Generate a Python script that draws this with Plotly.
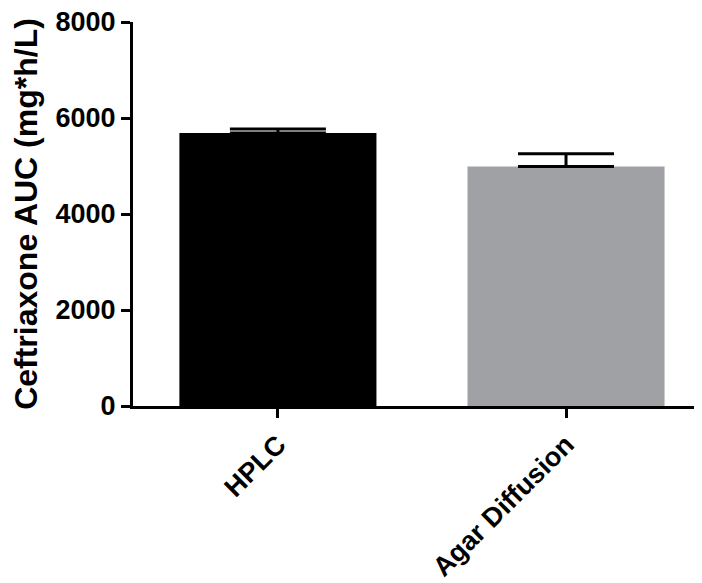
import plotly.graph_objects as go

categories = ["HPLC", "Agar Diffusion"]
means = [5688, 4992]
sem_plus = [84, 265]
colors = ["#000000", "#a0a1a5"]

FONT = "Liberation Sans, Arial, sans-serif"

fig = go.Figure()
fig.add_trace(go.Bar(
    x=categories,
    y=means,
    width=0.684,
    marker=dict(color=colors, line=dict(width=0)),
    error_y=dict(type="data", symmetric=False, array=sem_plus,
                 arrayminus=[0, 0], color="#000000", thickness=3, width=48),
))

fig.update_layout(
    width=694, height=575,
    margin=dict(l=125, r=0, t=14, b=177, autoexpand=False),
    paper_bgcolor="white", plot_bgcolor="white",
    showlegend=False,
    font=dict(family=FONT, color="#000000"),
    xaxis=dict(
        range=[-0.503, 1.472],
        showline=True, linewidth=3, linecolor="#000000",
        ticks="outside", ticklen=9, tickwidth=3, tickcolor="#000000",
        tickangle=-45,
        tickfont=dict(family=FONT, size=27, color="#000000", weight="bold"),
        showgrid=False, zeroline=False, automargin=False,
    ),
    yaxis=dict(
        range=[0, 8000],
        tickvals=[0, 2000, 4000, 6000, 8000],
        ticktext=["0", "2000", "4000", "6000", "8000"],
        ticklabeloverflow="allow",
        showline=True, linewidth=3, linecolor="#000000",
        ticks="outside", ticklen=9, tickwidth=3, tickcolor="#000000",
        tickfont=dict(family=FONT, size=27, color="#000000", weight="bold"),
        title=dict(text="Ceftriaxone AUC (mg*h/L)", standoff=10,
                   font=dict(family=FONT, size=32, color="#000000", weight="bold")),
        showgrid=False, zeroline=False, automargin=False,
    ),
)

fig.write_html("out.html")
